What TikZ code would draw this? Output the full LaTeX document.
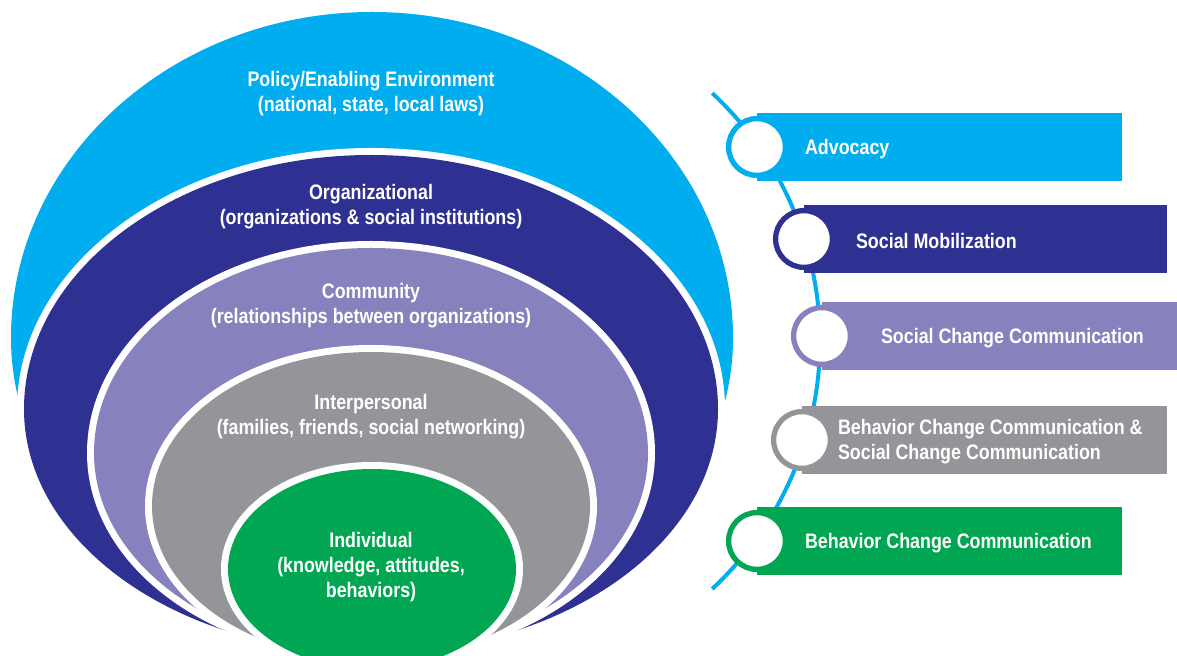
\documentclass[tikz,border=0pt]{standalone}
\usepackage{fontspec}
\newfontfamily\labelfont{Liberation Sans}[FakeStretch=0.85]
\usetikzlibrary{positioning}

\definecolor{policyblue}{RGB}{0,174,239}
\definecolor{orgblue}{RGB}{46,49,146}
\definecolor{commpurple}{RGB}{135,129,189}
\definecolor{intergray}{RGB}{147,149,152}
\definecolor{indivgreen}{RGB}{0,166,81}

\tikzset{
  layertext/.style={text=white, align=center,
    font=\labelfont\bfseries\fontsize{10.5}{12.5}\selectfont},
  bandtext/.style={layertext, align=left, anchor=west, inner sep=0pt,
    outer sep=0pt, yshift=-1pt},
  ring/.style={circle, fill=white, draw=#1, line width=2.65pt,
    minimum size=28.4pt, inner sep=0pt},
  spine/.style={policyblue, line width=2pt},
}

% egg: centre x, centre y, half width, upper and lower half height
\newcommand\eggpath[5]{(#1-#3,#2)
  arc [start angle=180, end angle=360, x radius=#3, y radius=#4]
  arc [start angle=0, end angle=180, x radius=#3, y radius=#5] -- cycle}

\begin{document}
\begin{tikzpicture}[x=0.5pt,y=-0.5pt]
  \useasboundingbox (0,0) rectangle (1177,656);

  % nested levels, outside in; each one sits on a white halo
  \foreach \col/\cx/\cy/\a/\bt/\bb in {
    policyblue/372/338/361/326/300,
    orgblue/371/409/347/254/244,
    commpurple/371/453/277/205/200,
    intergray/371/506/219/154/154,
    indivgreen/372/569/144/100/100
  }
  {
    \pgfmathsetmacro\ha{\a+7}
    \pgfmathsetmacro\hbt{\bt+7}
    \pgfmathsetmacro\hbb{\bb+7}
    \fill[white] \eggpath{\cx}{\cy}{\ha}{\hbt}{\hbb};
    \fill[\col] \eggpath{\cx}{\cy}{\a}{\bt}{\bb};
  }

  \node[layertext] (policy) at (371,94)
    {Policy/Enabling Environment\\(national, state, local laws)};
  \node[layertext] (organizational) at (371,206.5)
    {Organizational\\(organizations \& social institutions)};
  \node[layertext] (community) at (371,305.5)
    {Community\\(relationships between organizations)};
  \node[layertext] (interpersonal) at (371,417)
    {Interpersonal\\(families, friends, social networking)};
  \node[layertext] (individual) at (371,567.5)
    {Individual\\(knowledge, attitudes,\\behaviors)};

  % the curved spine behind the rings
  \coordinate (spinetop) at (712.2,93.1);
  \draw[spine] (spinetop) arc [start angle=-47, end angle=47, radius=339];

  % approach bands with their rings
  \foreach \name/\col/\cx/\cy/\xr in {
    adv/policyblue/757/147/1122,
    mob/orgblue/804/239/1167,
    scc/commpurple/822/336/1180,
    bcsc/intergray/802/440/1167,
    bcc/indivgreen/757/541/1122
  }
  {
    \fill[\col] (\cx,\cy-34) rectangle (\xr,\cy+34);
    \node[ring=\col] (ring\name) at (\cx,\cy) {};
  }

  \node[bandtext, right=8.5pt of ringadv] (advtext) {Advocacy};
  \node[bandtext, right=10.5pt of ringmob] (mobtext) {Social Mobilization};
  \node[bandtext, right=14pt of ringscc] (scctext) {Social Change Communication};
  \node[bandtext, right=2.5pt of ringbcsc] (bcsctext)
    {Behavior Change Communication \&\\Social Change Communication};
  \node[bandtext, right=8.5pt of ringbcc] (bcctext) {Behavior Change Communication};
\end{tikzpicture}
\end{document}
